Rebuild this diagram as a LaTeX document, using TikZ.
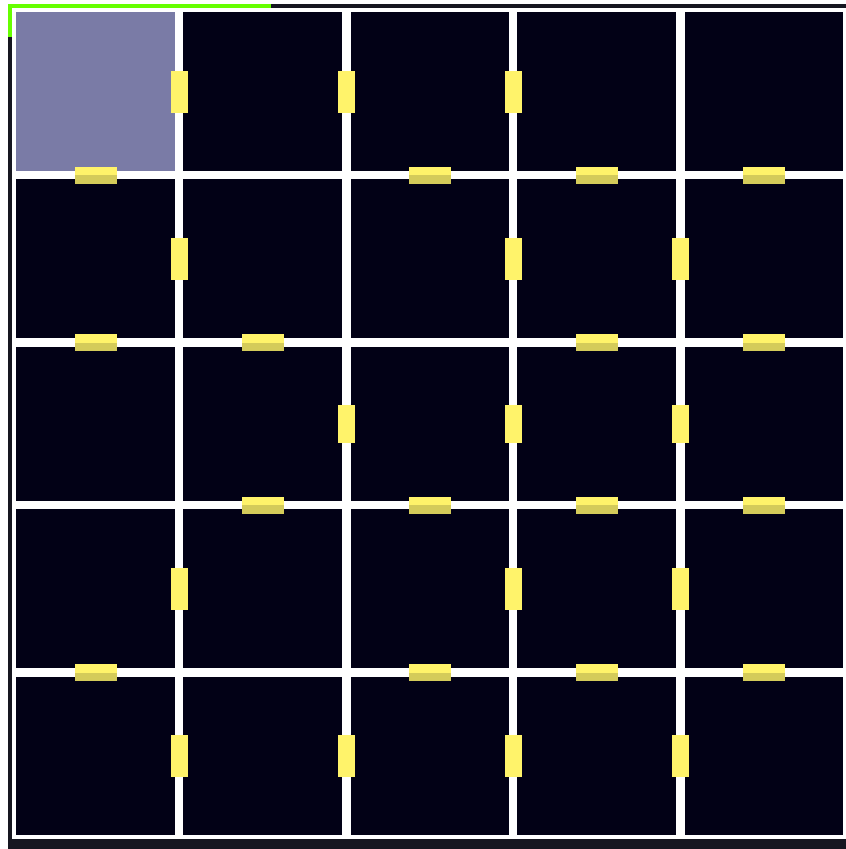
\documentclass[tikz,border=0pt]{standalone}
\definecolor{celldark}{RGB}{2,1,22}
\definecolor{cellvisit}{RGB}{122,123,166}
\definecolor{doorlight}{RGB}{255,243,106}
\definecolor{doordark}{RGB}{212,203,90}
\definecolor{stripdark}{RGB}{22,22,32}
\definecolor{progress}{RGB}{102,255,0}
\begin{document}
\begin{tikzpicture}[x=1pt,y=-1pt,
  cellbox/.style={fill=celldark},
  visitbox/.style={fill=cellvisit},
  vdoor/.style={fill=doorlight},
  hdoortop/.style={fill=doorlight},
  hdoorbot/.style={fill=doordark}]
\useasboundingbox (0,0) rectangle (846,849);
\fill[white] (0,0) rectangle (846,849);
\fill[stripdark] (8,4) rectangle (846,849);
\fill[white] (12,8) rectangle (846,839);
% cells
\foreach \xa/\xb in {16/175,183/342,351/509,517/676,685/843}{
  \foreach \ya/\yb in {12/171,179/338,347/501,509/668,677/835}{
    \fill[cellbox] (\xa,\ya) rectangle (\xb,\yb);
  }
}
\fill[visitbox] (16,12) rectangle (175,171);
% progress bar
\fill[progress] (8,4) rectangle (271,8);
\fill[progress] (8,4) rectangle (12,37);
% vertical doors: line x center / row center
\foreach \cx/\cy/\h in {179/92/21,346.5/92/21,513/92/21,
  179/258.5/21,513/258.5/21,680.5/258.5/21,
  346.5/424/19,513/424/19,680.5/424/19,
  179/589/21,513/589/21,680.5/589/21,
  179/756/21,346.5/756/21,513/756/21,680.5/756/21}{
  \fill[vdoor] (\cx-8.5,\cy-\h) rectangle (\cx+8.5,\cy+\h);
}
% horizontal doors: col center / line center
\foreach \cx/\cy in {95.5/175,430/175,596.5/175,764/175,
  95.5/342.5,262.5/342.5,596.5/342.5,764/342.5,
  262.5/505,430/505,596.5/505,764/505,
  95.5/672.5,430/672.5,596.5/672.5,764/672.5}{
  \fill[hdoortop] (\cx-21,\cy-8.5) rectangle (\cx+21,\cy);
  \fill[hdoorbot] (\cx-21,\cy) rectangle (\cx+21,\cy+8.5);
}
\end{tikzpicture}
\end{document}
